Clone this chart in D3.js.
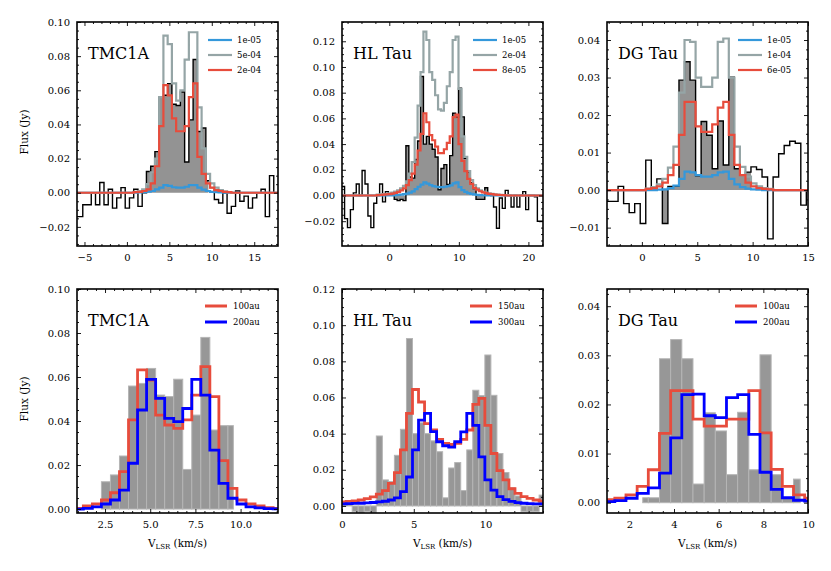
<!DOCTYPE html>
<html><head><meta charset="utf-8">
<script src="https://cdn.jsdelivr.net/npm/d3@7"></script>
<style>body{margin:0;background:#fff} svg text{font-family:'DejaVu Serif','Liberation Serif','Times New Roman',serif;}</style>
</head><body><svg id="c" width="831" height="571"></svg>
<script>
// ---------------- DATA ----------------
// TMC1A (channel width 0.5 km/s)
const tmcV0 = -5.95, tmcDv = 0.5;
const tmcObs = [-0.014,-0.014,-0.007,-0.007,0.000,-0.007,0.006,-0.007,0.002,-0.009,-0.003,0.003,-0.009,-0.003,0.002,-0.008,0.000,
  0.0124,0.0155,0.0241,0.0559,0.0571,0.0639,0.0518,0.0511,0.059,0.018,0.0427,0.078,0.0359,0.0379,
  0.007,0.003,-0.004,-0.006,0.000,-0.012,-0.008,0.001,-0.005,-0.002,-0.009,-0.003,0.000,0.002,-0.014,0.010,0.000];
const tmcFillWin = [2.3, 9.6];
const tmcBarV0 = 2.55;
const tmcBars = [0.0124,0.0155,0.0241,0.0559,0.0571,0.0639,0.0518,0.0511,0.059,0.018,0.0427,0.078,0.0359,0.0379,0.0379];
const tmcModV0 = 1.05;
const tmcTopBlue = [0.0001,0.0002,0.0003,0.0006,0.001,0.002,0.003,0.0045,0.004,0.0032,0.003,0.003,0.0035,0.0045,0.0045,0.003,0.0018,0.001,0.0005,0.0003,0.0002,0.0001,0.0];
const tmcTopGrey = [0.0005,0.001,0.002,0.005,0.012,0.02,0.056,0.092,0.087,0.064,0.054,0.06,0.078,0.094,0.094,0.05,0.026,0.011,0.0055,0.003,0.0015,0.0008,0.0004];
const tmcTopRed  = [0.0003,0.0005,0.001,0.002,0.0055,0.0155,0.039,0.063,0.057,0.0435,0.036,0.036,0.039,0.056,0.064,0.021,0.011,0.0055,0.003,0.0015,0.001,0.0005,0.0003];
const tmcBotRed  = [0.0003,0.0014,0.0023,0.0041,0.0074,0.017,0.0405,0.0632,0.0586,0.0427,0.0382,0.0367,0.0405,0.0518,0.0647,0.0511,0.022,0.0094,0.0041,0.0023,0.0014,0.0006,0.0003];
const tmcBotBlue = [0.0,0.0003,0.001,0.0023,0.0041,0.0086,0.0208,0.045,0.0589,0.0503,0.0412,0.0397,0.0457,0.0589,0.0518,0.0268,0.0117,0.0049,0.0023,0.001,0.0005,0.0002,0.0001];

// HL Tau (channel width 0.42 km/s)
const hlV0 = -6.64, hlDv = 0.42;
const hlObs = [0.007,-0.018,-0.025,-0.011,0.002,0.009,0.000,0.0195,0.009,-0.016,-0.025,-0.006,0.000,0.009,-0.005,0.003,
  0.001,0.0008,-0.003,-0.004,-0.003,-0.004,0.0387,0.0144,0.0135,0.028,0.0424,0.0926,0.040,0.046,0.040,0.036,0.030,0.0045,0.021,0.024,0.0085,0.031,0.064,0.061,0.0835,0.0612,0.029,0.0185,0.010,0.0055,-0.003,-0.003,-0.003,0.006,
  0.001,0.000,-0.009,-0.0255,-0.002,-0.010,0.004,0.000,-0.009,0.000,-0.009,0.000,0.003,-0.011,0.000,0.000,-0.001,-0.020,-0.020];
const hlFillWin = [-0.13, 14.14];
const hlBarV0 = 0.08;
const hlBars = [0.001,0.0008,-0.003,-0.004,-0.003,-0.004,0.0387,0.0144,0.0135,0.028,0.0424,0.0926,0.040,0.046,0.040,0.036,0.030,0.0045,0.021,0.024,0.0085,0.031,0.064,0.061,0.0835,0.0612,0.029,0.0185,0.010,0.0055,-0.003,-0.003,-0.003,0.006];
const hlTopGreyV0 = -1.60;
const hlTopGrey = [0.0006,0.0008,0.001,0.0013,0.0017,0.0023,0.003,0.004,0.0055,0.0075,0.011,0.017,0.026,0.045,0.07,0.096,0.1275,0.121,0.096,0.09,0.078,0.067,0.066,0.072,0.085,0.096,0.121,0.1236,0.083,0.046,0.03,0.019,0.012,0.008,0.0055,0.004,0.003,0.0022,0.0016,0.0012,0.0009,0.0007,0.0005,0.0004,0.0003];
const hlTopRedV0 = -1.60;
const hlTopRed = [0.0003,0.0004,0.0006,0.0008,0.001,0.0014,0.002,0.0028,0.004,0.0055,0.008,0.012,0.017,0.024,0.035,0.048,0.064,0.057,0.047,0.043,0.038,0.033,0.033,0.036,0.041,0.046,0.061,0.063,0.04,0.027,0.019,0.013,0.009,0.006,0.0045,0.0033,0.0025,0.0018,0.0013,0.001,0.0007,0.0005,0.0004,0.0003];
const hlTopBlueV0 = 0.92;
const hlTopBlue = [0.0003,0.0005,0.0007,0.001,0.0015,0.0022,0.0032,0.005,0.0068,0.0085,0.0102,0.0092,0.008,0.0073,0.0068,0.0065,0.0065,0.0068,0.0072,0.0078,0.0095,0.0102,0.0065,0.0042,0.0028,0.0018,0.0012,0.0008,0.0005,0.0003,0.0002];
const hlBotV0 = 0.08;
const hlBotRed = [0.0022,0.0025,0.0028,0.0033,0.004,0.005,0.0065,0.0085,0.0125,0.0184,0.031,0.0512,0.0644,0.0575,0.0455,0.042,0.0368,0.0346,0.034,0.0346,0.0368,0.042,0.0562,0.0595,0.0446,0.029,0.0195,0.0144,0.0095,0.007,0.0052,0.0042,0.0033,0.0027];
const hlBotBlue = [0.0012,0.0013,0.0014,0.0015,0.0017,0.0019,0.0022,0.0026,0.0033,0.0045,0.0079,0.016,0.031,0.0475,0.0512,0.0411,0.0355,0.0333,0.0325,0.0355,0.041,0.0512,0.0446,0.0271,0.0144,0.0088,0.0052,0.0035,0.0025,0.0018,0.0015,0.0013,0.0012,0.0011];

// DG Tau (channel width 0.5 km/s)
const dgV0 = -2.9, dgDv = 0.5;
const dgObs = [-0.003,-0.003,0.001,-0.0036,-0.006,-0.0036,-0.0089,0.008,0.000,0.003,-0.0089,
  0.001,0.001,0.0293,0.0342,0.0293,0.0038,0.0183,0.0146,0.0057,0.0184,0.0067,0.0301,0.0057,0.004,0.0048,
  0.0062,0.0055,0.0035,-0.013,0.0035,0.0097,0.0119,0.013,0.0125,-0.004,0.000];
const dgFillWin = [1.85, 9.85];
const dgBarV0 = 2.6;
const dgBarWin = [2.6, 9.65];
const dgBars = [0.001,0.001,0.0293,0.0332,0.0293,0.0038,0.0183,0.0146,0.0057,0.0184,0.0067,0.0301,0.0057,0.001,0.0048];
const dgTopV0 = 0.6;
const dgTopBlue = [0,0,0.0001,0.0002,0.0005,0.0012,0.003,0.0049,0.0047,0.004,0.0036,0.0036,0.004,0.0047,0.0049,0.003,0.0015,0.0008,0.0004,0.0002,0.0001,0,0];
const dgTopGrey = [0.0004,0.0008,0.0015,0.003,0.006,0.0116,0.026,0.040,0.0395,0.030,0.0275,0.0275,0.030,0.0395,0.0404,0.030,0.0116,0.0062,0.0036,0.0018,0.001,0.0005,0.0003];
const dgTopRed  = [0.0003,0.0005,0.001,0.002,0.004,0.0067,0.0147,0.0235,0.0235,0.017,0.0155,0.0155,0.0175,0.022,0.0235,0.0147,0.0067,0.004,0.002,0.001,0.0005,0.0003,0.0002];
const dgBotV0 = 1.1;
const dgBotRed  = [0.0006,0.0009,0.0016,0.0033,0.0067,0.0141,0.0228,0.0228,0.017,0.0156,0.0156,0.017,0.017,0.0228,0.0142,0.0068,0.0033,0.0016,0.0009];
const dgBotBlue = [0.0002,0.0004,0.0009,0.0019,0.003,0.006,0.0132,0.022,0.0221,0.0177,0.0173,0.0214,0.022,0.0139,0.0062,0.0027,0.001,0.0005,0.0003];

// legend labels
const topLabels = {tmc:['1e-05','5e-04','2e-04'], hl:['1e-05','2e-04','8e-05'], dg:['1e-05','1e-04','6e-05']};
const botLabels = {tmc:['100au','200au'], hl:['150au','300au'], dg:['100au','200au']};

// ---------------- STYLE / LAYOUT ----------------
const C_BLUE = '#3498db', C_GREY = '#95a5a6', C_RED = '#e74c3c', C_BLUE2 = '#0000ff';
const FONT = "'DejaVu Serif','Liberation Serif','Times New Roman',serif";
const svg = d3.select('#c');

const panels = [
 {id:'a', x0:77, y0:22, w:201, h:224, xdom:[-5.88,17.8], ydom:[-0.0312,0.1], xMaj:5, xMin:1, yMaj:0.02, yMin:0.005, xf:'d', yf:'.2f', name:'TMC1A', row:0, ylab:true,
   obs:[tmcV0,tmcDv,tmcObs], fillWin:tmcFillWin,
   models:[[tmcModV0,tmcDv,tmcTopBlue,C_BLUE],[tmcModV0,tmcDv,tmcTopGrey,C_GREY],[tmcModV0,tmcDv,tmcTopRed,C_RED]], labels:topLabels.tmc},
 {id:'b', x0:342, y0:22, w:201, h:224, xdom:[-6.8,22.1], ydom:[-0.0393,0.135], xMaj:10, xMin:2, yMaj:0.02, yMin:0.005, xf:'d', yf:'.2f', name:'HL Tau', row:0,
   obs:[hlV0,hlDv,hlObs], fillWin:hlFillWin,
   models:[[hlTopBlueV0,hlDv,hlTopBlue,C_BLUE],[hlTopGreyV0,hlDv,hlTopGrey,C_GREY],[hlTopRedV0,hlDv,hlTopRed,C_RED]], labels:topLabels.hl},
 {id:'c', x0:607, y0:22, w:201, h:224, xdom:[-3.15,15.0], ydom:[-0.0149,0.0448], xMaj:5, xMin:1, yMaj:0.01, yMin:0.0025, xf:'d', yf:'.2f', name:'DG Tau', row:0,
   obs:[dgV0,dgDv,dgObs], fillWin:dgFillWin,
   models:[[dgTopV0,dgDv,dgTopBlue,C_BLUE],[dgTopV0,dgDv,dgTopGrey,C_GREY],[dgTopV0,dgDv,dgTopRed,C_RED]], labels:topLabels.dg},
 {id:'d', x0:77, y0:289, w:201, h:224, xdom:[0.95,12.07], ydom:[-0.0018,0.1], xMaj:2.5, xMin:0.5, yMaj:0.02, yMin:0.005, xf:'.1f', yf:'.2f', name:'TMC1A', row:1, ylab:true,
   bars:[tmcBarV0,tmcDv,tmcBars,[2.3,9.6]],
   models:[[tmcModV0,tmcDv,tmcBotRed,C_RED],[tmcModV0,tmcDv,tmcBotBlue,C_BLUE2]], labels:botLabels.tmc},
 {id:'e', x0:342, y0:289, w:201, h:224, xdom:[0,14], ydom:[-0.0039,0.12], xMaj:5, xMin:1, yMaj:0.02, yMin:0.005, xf:'d', yf:'.2f', name:'HL Tau', row:1,
   bars:[hlBarV0,hlDv,hlBars,[-0.2,14.2]],
   models:[[hlBotV0,hlDv,hlBotRed,C_RED],[hlBotV0,hlDv,hlBotBlue,C_BLUE2]], labels:botLabels.hl},
 {id:'f', x0:607, y0:289, w:201, h:224, xdom:[1.0,10.0], ydom:[-0.0021,0.0435], xMaj:2, xMin:0.5, yMaj:0.01, yMin:0.0025, xf:'d', yf:'.2f', name:'DG Tau', row:1,
   bars:[dgBarV0,dgDv,dgBars,dgBarWin],
   models:[[dgBotV0,dgDv,dgBotRed,C_RED],[dgBotV0,dgDv,dgBotBlue,C_BLUE2]], labels:botLabels.dg}
];

function tickRange(dom, step){
  const a = Math.ceil(dom[0]/step - 1e-6), b = Math.floor(dom[1]/step + 1e-6);
  return d3.range(a, b+1).map(k => +(k*step).toFixed(6));
}

panels.forEach(p => {
  const x = d3.scaleLinear().domain(p.xdom).range([p.x0, p.x0+p.w]);
  const y = d3.scaleLinear().domain(p.ydom).range([p.y0+p.h, p.y0]);
  const defs = svg.append('defs');
  defs.append('clipPath').attr('id','clip'+p.id).append('rect')
    .attr('x',p.x0).attr('y',p.y0).attr('width',p.w).attr('height',p.h);
  const g = svg.append('g');
  const plot = g.append('g').attr('clip-path',`url(#clip${p.id})`);

  const stepLine = d3.line().x(d=>x(d[0])).y(d=>y(d[1])).curve(d3.curveStepAfter);
  const stepArea = d3.area().x(d=>x(d[0])).y0(y(0)).y1(d=>y(d[1])).curve(d3.curveStepAfter);

  function channelPts(v0, dv, vals, win){
    const pts = [];
    vals.forEach((val,i)=>{
      let l = v0 + i*dv - dv/2, r = l + dv;
      if (win){ l = Math.max(l, win[0]); r = Math.min(r, win[1]); if (r <= l) return; }
      pts.push([l, val, r]);
    });
    return pts;
  }

  if (p.fillWin){
    const pts = channelPts(p.obs[0], p.obs[1], p.obs[2], p.fillWin);
    const ap = pts.map(d=>[d[0],d[1]]); ap.push([pts[pts.length-1][2], pts[pts.length-1][1]]);
    plot.append('path').attr('d', stepArea(ap)).attr('fill','#939393').attr('stroke','none');
    const lp = channelPts(p.obs[0], p.obs[1], p.obs[2]);
    const lpp = lp.map(d=>[d[0],d[1]]); lpp.push([lp[lp.length-1][2], lp[lp.length-1][1]]);
    plot.append('path').attr('d', stepLine(lpp)).attr('fill','none').attr('stroke','#000').attr('stroke-width',1.4);
  }
  if (p.bars){
    const pts = channelPts(p.bars[0], p.bars[1], p.bars[2], p.bars[3]);
    plot.selectAll('rect.bar').data(pts).join('rect').attr('class','bar')
      .attr('x', d=>x(d[0])).attr('width', d=>x(d[2])-x(d[0]))
      .attr('y', d=>Math.min(y(d[1]), y(0))).attr('height', d=>Math.abs(y(d[1])-y(0)))
      .attr('fill','#979797').attr('stroke','#b5b5b5').attr('stroke-width',1);
  }
  const lw = p.row===0 ? 2.2 : 2.8;
  p.models.forEach(m => {
    const pts = channelPts(m[0], m[1], m[2]);
    const lp = [[p.xdom[0]-1, 0]];
    pts.forEach(d=>lp.push([d[0], d[1]]));
    lp.push([pts[pts.length-1][2], 0]);
    lp.push([p.xdom[1]+1, 0]);
    plot.append('path').attr('d', stepLine(lp)).attr('fill','none').attr('stroke', m[3]).attr('stroke-width', lw);
  });

  // frame
  g.append('rect').attr('x',p.x0).attr('y',p.y0).attr('width',p.w).attr('height',p.h)
    .attr('fill','none').attr('stroke','#000').attr('stroke-width',1.6);

  // axes
  const xMaj = tickRange(p.xdom, p.xMaj), xMin = tickRange(p.xdom, p.xMin).filter(t=>!xMaj.some(m=>Math.abs(m-t)<1e-9));
  const yMaj = tickRange(p.ydom, p.yMaj), yMin = tickRange(p.ydom, p.yMin).filter(t=>!yMaj.some(m=>Math.abs(m-t)<1e-9));
  function styleAxis(sel){
    sel.select('.domain').remove();
    sel.attr('font-family', FONT).attr('font-size', 10);
    sel.selectAll('line').attr('stroke','#000').attr('stroke-width',0.9);
    sel.selectAll('text').attr('fill','#000').attr('font-family', FONT).style('font-family', FONT).style('font-size','10px');
  }
  const bY = p.y0+p.h, rX = p.x0+p.w;
  g.append('g').attr('transform',`translate(0,${bY})`).call(d3.axisBottom(x).tickValues(xMaj).tickSize(-4).tickPadding(8).tickFormat(d3.format(p.xf))).call(styleAxis);
  g.append('g').attr('transform',`translate(0,${bY})`).call(d3.axisBottom(x).tickValues(xMin).tickSize(-2).tickFormat('')).call(styleAxis);
  g.append('g').attr('transform',`translate(0,${p.y0})`).call(d3.axisTop(x).tickValues(xMaj).tickSize(-4).tickFormat('')).call(styleAxis);
  g.append('g').attr('transform',`translate(0,${p.y0})`).call(d3.axisTop(x).tickValues(xMin).tickSize(-2).tickFormat('')).call(styleAxis);
  g.append('g').attr('transform',`translate(${p.x0},0)`).call(d3.axisLeft(y).tickValues(yMaj).tickSize(-4).tickPadding(7).tickFormat(d3.format(p.yf))).call(styleAxis);
  g.append('g').attr('transform',`translate(${p.x0},0)`).call(d3.axisLeft(y).tickValues(yMin).tickSize(-2).tickFormat('')).call(styleAxis);
  g.append('g').attr('transform',`translate(${rX},0)`).call(d3.axisRight(y).tickValues(yMaj).tickSize(-4).tickFormat('')).call(styleAxis);
  g.append('g').attr('transform',`translate(${rX},0)`).call(d3.axisRight(y).tickValues(yMin).tickSize(-2).tickFormat('')).call(styleAxis);

  const T = (sel, size) => sel.attr('font-family', FONT).style('font-family', FONT).style('font-size', size+'px').attr('fill','#000');

  // object name
  g.append('text').attr('x', p.x0+11).attr('y', p.y0+37).call(T, 16).text(p.name);

  // legend
  const ly = p.row===0 ? [18,33,48] : [17,33];
  const colors = p.models.map(m=>m[3]);
  p.labels.forEach((t,i)=>{
    const yy = p.y0 + ly[i];
    if (p.row===0){
      g.append('line').attr('x1', rX-70).attr('x2', rX-46).attr('y1',yy).attr('y2',yy).attr('stroke',colors[i]).attr('stroke-width',2.2);
      g.append('text').attr('x', rX-41).attr('y', yy).attr('dy','0.35em').call(T, 8.5).text(t);
    } else {
      g.append('line').attr('x1', rX-73).attr('x2', rX-51).attr('y1',yy).attr('y2',yy).attr('stroke',colors[i]).attr('stroke-width',3);
      g.append('text').attr('x', rX-45).attr('y', yy).attr('dy','0.35em').call(T, 8.5).text(t);
    }
  });

  // axis labels
  if (p.ylab){
    g.append('text').attr('transform',`translate(28,${p.y0+p.h/2-2}) rotate(-90)`).attr('text-anchor','middle')
      .call(T, 10.5).text('Flux (Jy)');
  }
  if (p.row===1){
    const t = g.append('text').attr('x', p.x0+p.w/2).attr('y', bY+34).attr('text-anchor','middle').call(T, 10.5);
    t.append('tspan').text('V');
    t.append('tspan').style('font-size','7px').attr('dy',2).text('LSR');
    t.append('tspan').attr('dy',-2).text(' (km/s)');
  }
});
</script></body></html>
